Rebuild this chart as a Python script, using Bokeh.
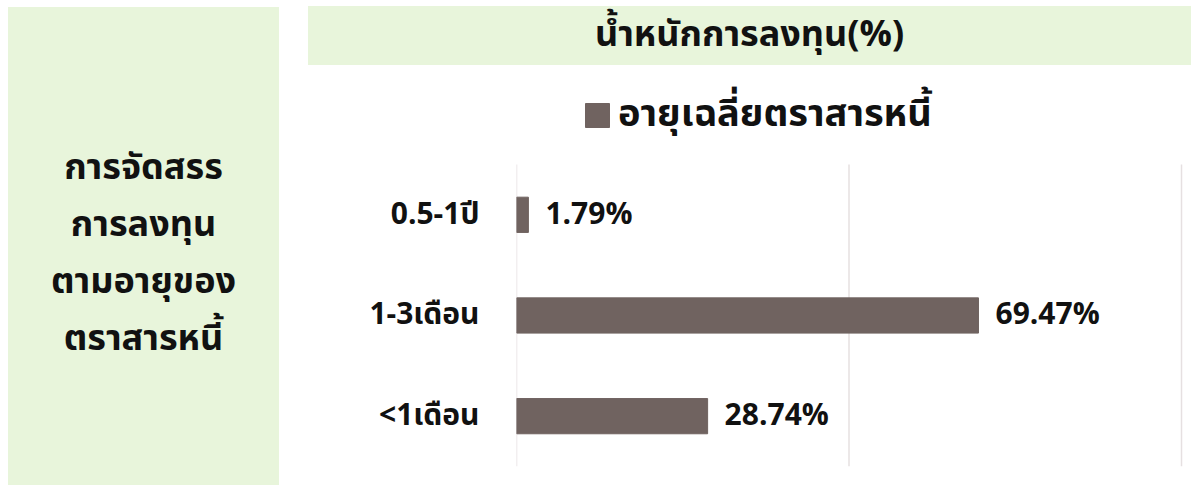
from bokeh.plotting import figure
from bokeh.models import (Range1d, FixedTicker, ColumnDataSource, LabelSet,
                          Legend, LegendItem, Div)
from bokeh.layouts import row, column
from bokeh.core.properties import value
from bokeh.embed import file_html
from bokeh.resources import INLINE

# ---- data ----
categories = ["<1เดือน", "1-3เดือน", "0.5-1ปี"]
weights = [28.74, 69.47, 1.79]
series_name = "อายุเฉลี่ยตราสารหนี้"
header_title = "น้ำหนักการลงทุน(%)"
side_lines = ["การจัดสรร", "การลงทุน", "ตามอายุของ", "ตราสารหนี้"]
grid_ticks = [0, 50, 100]

FONT_S = "Noto Sans Thai, Noto Sans, sans-serif"
FONT = value(FONT_S)
GREEN = "#e8f5db"
BAR = "#706360"
INK = "#111111"

# ---- left panel (HTML text) ----
side_html = (f'<div style="width:271px;height:478px;background:{GREEN};box-sizing:border-box;'
             f'padding-top:133px;text-align:center;font-family:{FONT_S};font-weight:bold;'
             f'font-size:36px;line-height:57px;color:{INK};">'
             + "<br>".join(side_lines) + "</div>")
left = Div(text=side_html, width=271, height=478, margin=(7, 0, 0, 8))

# ---- header (HTML text) ----
head_html = (f'<div style="width:883px;height:59px;background:{GREEN};display:flex;'
             f'align-items:center;justify-content:center;font-family:{FONT_S};font-weight:bold;'
             f'font-size:36px;color:{INK};">{header_title}</div>')
head = Div(text=head_html, width=883, height=59, margin=(6, 0, 0, 0))

# ---- main chart ----
idx = list(range(len(categories)))
src = ColumnDataSource(dict(i=idx, w=weights, lab=[f"{v:.2f}%" for v in weights]))
n = len(categories)
p = figure(width=883, height=420, output_backend="svg", toolbar_location=None,
           y_range=Range1d(-0.5, n - 0.5 + 0.983), x_range=Range1d(0, 100.3),
           min_border_left=208, min_border_right=8, min_border_top=0, min_border_bottom=19)
p.outline_line_color = None
p.xaxis.visible = False
p.grid.visible = False

# vertical gridlines spanning the category band only
p.segment(x0=grid_ticks, x1=grid_ticks, y0=[-0.5] * len(grid_ticks), y1=[n - 0.5] * len(grid_ticks),
          line_color="#e6e0e1", line_width=1.5)

bars = p.hbar(y="i", right="w", left=0, height=0.35, source=src, color=BAR)

p.yaxis.ticker = FixedTicker(ticks=idx)
p.yaxis.major_label_overrides = {i: c for i, c in zip(idx, categories)}
p.yaxis.axis_line_color = None
p.yaxis.major_tick_line_color = None
p.yaxis.minor_tick_line_color = None
p.yaxis.major_tick_out = 0
p.yaxis.major_label_standoff = 37
p.yaxis.major_label_text_font = FONT_S
p.yaxis.major_label_text_font_size = "30px"
p.yaxis.major_label_text_font_style = "bold"
p.yaxis.major_label_text_color = INK

p.add_layout(LabelSet(x="w", y="i", text="lab", source=src, x_offset=17, text_baseline="middle",
                      text_font=FONT, text_font_size="30px", text_font_style="bold",
                      text_color=INK))

legend = Legend(items=[LegendItem(label=series_name, renderers=[bars])], location=(66, 323),
                orientation="horizontal", padding=0, margin=0, glyph_width=30, glyph_height=30,
                label_standoff=6, label_text_font=FONT_S, label_text_font_size="38px",
                label_text_font_style="bold", label_text_color=INK,
                border_line_color=None, background_fill_alpha=0)
p.add_layout(legend, "center")

layout = row(left, column(head, p, spacing=0), spacing=29)
open("out.html", "w").write(file_html(layout, INLINE))
